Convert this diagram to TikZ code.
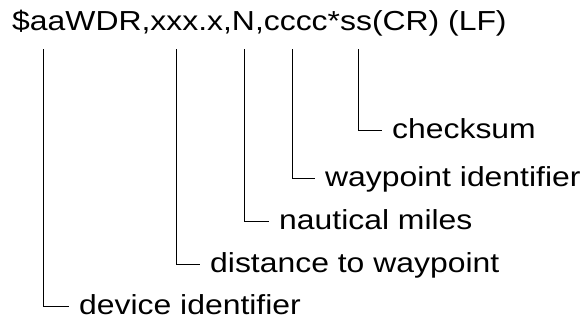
\documentclass[tikz,border=0pt]{standalone}
\usepackage{fontspec}
\setmainfont{Liberation Sans}
\usepackage{graphicx}
\usetikzlibrary{positioning}

\newcommand{\wide}[1]{\scalebox{1.16}[1]{#1}}
\tikzset{
	field/.style={inner sep=0pt, font=\fontsize{27.5}{31}\selectfont},
	desc/.style={field, anchor=base west, inner xsep=10pt},
	leader/.style={draw=black, line width=0.9pt}
}

\begin{document}
\begin{tikzpicture}[x=1pt, y=-1pt]
				\useasboundingbox (0,0) rectangle (588,324);
				\node[field, anchor=base west] (msg) at (12,30) {\wide{\$aaWDR,xxx.x,N,cccc*ss(CR) (LF)}};
				\coordinate (devtop) at (43.5,49);
				\coordinate (disttop) at (176,49);
				\coordinate (nmtop) at (244,49);
				\coordinate (wpttop) at (292,49);
				\coordinate (sumtop) at (358.5,49);
				% labels sit 8pt below their leader
				\node[desc] (sum) at (382,138) {\wide{checksum}};
				\node[desc] (wpt) at (315,186) {\wide{waypoint identifier}};
				\node[desc] (nm) at (269,229) {\wide{nautical miles}};
				\node[desc] (dist) at (200,272) {\wide{distance to waypoint}};
				\node[desc] (dev) at (69,314) {\wide{device identifier}};
				\draw[leader] (sumtop) |- ([yshift=8pt]sum.base west);
				\draw[leader] (wpttop) |- ([yshift=8pt]wpt.base west);
				\draw[leader] (nmtop) |- ([yshift=8pt]nm.base west);
				\draw[leader] (disttop) |- ([yshift=8pt]dist.base west);
				\draw[leader] (devtop) |- ([yshift=8pt]dev.base west);
			\end{tikzpicture}
\end{document}
